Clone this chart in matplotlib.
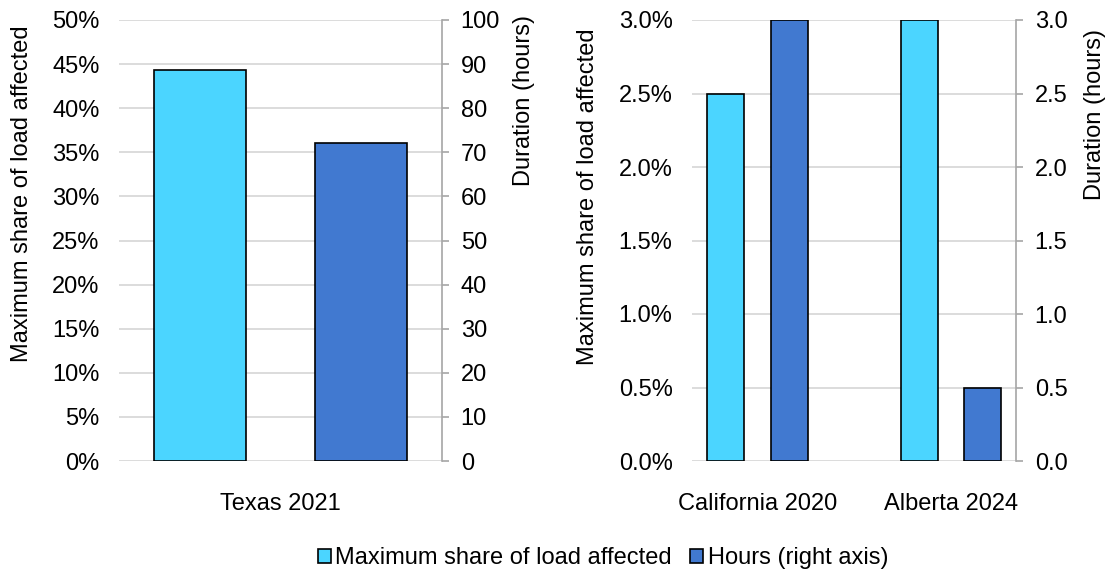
import matplotlib
matplotlib.use("Agg")
import matplotlib.pyplot as plt
from matplotlib.patches import Patch
from matplotlib.ticker import FuncFormatter, MultipleLocator

# ---- data ----
categories_left = ["Texas 2021"]
share_left = [44.3]      # %
hours_left = [72]        # hours
categories_right = ["California 2020", "Alberta 2024"]
share_right = [2.5, 3.0]  # %
hours_right = [3.0, 0.5]  # hours
series_names = ["Maximum share of load affected", "Hours (right axis)"]

# ---- style ----
plt.rcParams["font.family"] = ["Liberation Sans", "DejaVu Sans"]
FS = 17
C_SHARE = "#4BD5FF"
C_HOURS = "#4179D0"
GRID = "#D9D9D9"
SPINE = "#A6A6A6"

fig = plt.figure(figsize=(11.09, 5.69), dpi=100)
W, H = 1109, 569


def make_panel(rect, cats, share, hours, offset, width, xlim, ylim_l, ylim_r,
               step_l, step_r, fmt_l, fmt_r):
    ax = fig.add_axes(rect)
    ax2 = ax.twinx()
    xs = list(range(len(cats)))
    ax.bar([x - offset for x in xs], share, width=width, color=C_SHARE,
           edgecolor="black", linewidth=1.2, zorder=3)
    ax2.bar([x + offset for x in xs], hours, width=width, color=C_HOURS,
            edgecolor="black", linewidth=1.2, zorder=3)
    ax.set_xlim(*xlim)
    ax.set_ylim(*ylim_l)
    ax2.set_ylim(*ylim_r)
    ax.yaxis.set_major_locator(MultipleLocator(step_l))
    ax2.yaxis.set_major_locator(MultipleLocator(step_r))
    ax.yaxis.set_major_formatter(FuncFormatter(fmt_l))
    ax2.yaxis.set_major_formatter(FuncFormatter(fmt_r))
    ax.set_xticks(xs)
    ax.set_xticklabels(cats)
    ax.grid(axis="y", color=GRID, linewidth=1.3, zorder=0)
    ax.set_axisbelow(True)
    for a in (ax, ax2):
        for s in a.spines.values():
            s.set_visible(False)
    ax2.spines["right"].set_visible(True)
    ax2.spines["right"].set_color(SPINE)
    ax2.spines["right"].set_linewidth(1.2)
    ax.tick_params(axis="y", length=0, pad=14, labelsize=FS, colors="black")
    ax.tick_params(axis="x", length=0, pad=23, labelsize=FS)
    ax2.tick_params(axis="y", length=5, width=1.2, color=SPINE, pad=8.5,
                    labelsize=FS, labelcolor="black")
    return ax, ax2


bottom = 1 - 461 / H
height = 441 / H

make_panel([119 / W, bottom, 323 / W, height], categories_left, share_left,
           hours_left, 0.249, 0.285, (-0.5, 0.5), (0, 50), (0, 100), 5, 10,
           lambda v, p: f"{v:.0f}%", lambda v, p: f"{v:.0f}")

make_panel([692 / W, bottom, 324 / W, height], categories_right, share_right,
           hours_right, 0.165, 0.191, (-0.3385, 1.336), (0, 3.0), (0, 3.0),
           0.5, 0.5, lambda v, p: f"{v:.1f}%", lambda v, p: f"{v:.1f}")

# axis titles
fig.text(22 / W, 1 - 194 / H, "Maximum share of load affected", rotation=90,
         ha="center", va="center", fontsize=FS)
fig.text(524 / W, 1 - 100 / H, "Duration (hours)", rotation=90,
         ha="center", va="center", fontsize=FS)
fig.text(588 / W, 1 - 197 / H, "Maximum share of load affected", rotation=90,
         ha="center", va="center", fontsize=FS)
fig.text(1095 / W, 1 - 114 / H, "Duration (hours)", rotation=90,
         ha="center", va="center", fontsize=FS)

handles = [Patch(facecolor=C_SHARE, edgecolor="black", linewidth=1.2),
           Patch(facecolor=C_HOURS, edgecolor="black", linewidth=1.2)]
fig.legend(handles, series_names, loc="center", ncol=2,
           bbox_to_anchor=(603 / W, 1 - 558 / H), frameon=False, fontsize=FS,
           handlelength=0.55, handleheight=0.55, handletextpad=0.2,
           columnspacing=0.76, borderpad=0, borderaxespad=0)

fig.savefig("out.png", dpi=100)
